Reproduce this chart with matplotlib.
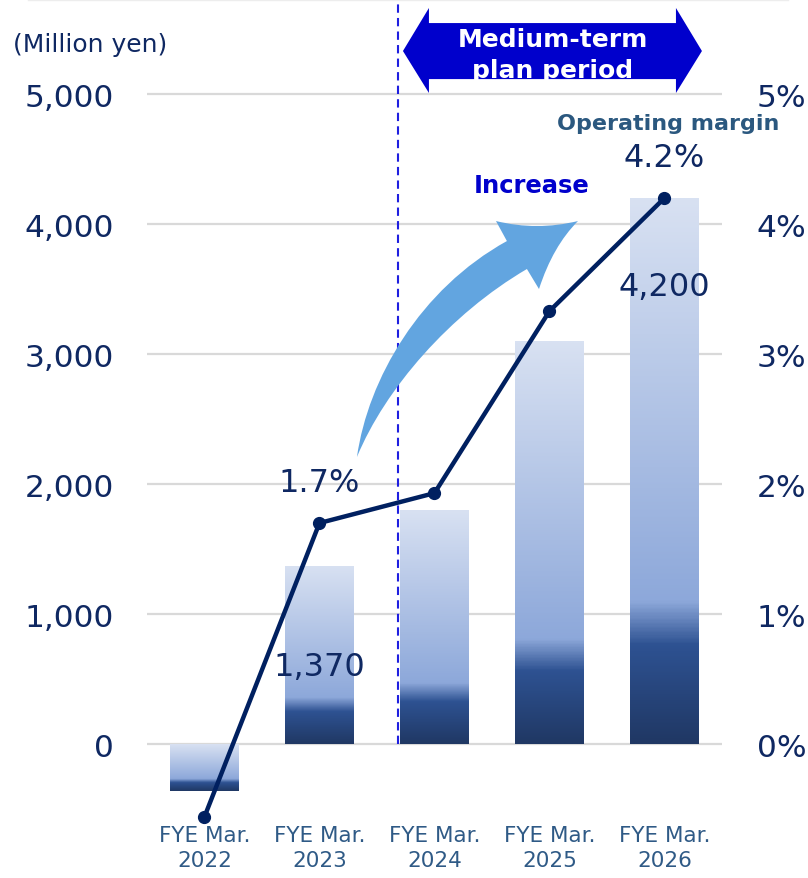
import numpy as np
import matplotlib
matplotlib.use("Agg")
import matplotlib.pyplot as plt
from matplotlib.colors import LinearSegmentedColormap
from matplotlib.patches import Polygon, PathPatch
from matplotlib.path import Path
from matplotlib.lines import Line2D

# --- data ---
years = ["2022", "2023", "2024", "2025", "2026"]
categories = [f"FYE Mar.\n{y}" for y in years]
op_income = [-360, 1370, 1800, 3100, 4200]        # million yen
op_margin = [-0.56, 1.7, 1.93, 3.33, 4.2]         # %
income_labels = {1: "1,370", 4: "4,200"}
margin_labels = {1: "1.7%", 4: "4.2%"}
left_ticks = [0, 1000, 2000, 3000, 4000, 5000]
right_ticks = [0, 1, 2, 3, 4, 5]

NAVY = "#0F2862"
LINE = "#002060"
CAT = "#2F5A86"

plt.rcParams["font.family"] = ["DejaVu Sans"]

fig = plt.figure(figsize=(8.08, 8.79), dpi=100)
ax = fig.add_axes([0.1819, 0.0637, 0.7116, 0.9317])
ax2 = ax.twinx()

ymin, ymax = -600, 5700
x = np.arange(len(categories))

# bars with a vertical gradient (light top -> dark bottom)
grad = LinearSegmentedColormap.from_list(
    "bar", [(0.0, "#D8E1F2"), (0.74, "#8DA8DA"), (0.82, "#2E5292"), (1.0, "#203864")])
bars = ax.bar(x, op_income, width=0.6, color="none", edgecolor="none", zorder=1)
g = np.linspace(0, 1, 400).reshape(-1, 1)
for b in bars:
    x0, w = b.get_x(), b.get_width()
    y0, h = b.get_y(), b.get_height()
    lo, hi = min(y0, y0 + h), max(y0, y0 + h)
    im = ax.imshow(g, cmap=grad, aspect="auto", origin="upper",
                   extent=(x0, x0 + w, lo, hi), zorder=1, interpolation="bilinear")
    im.set_clip_path(b)

ax.set_xlim(-0.5, len(categories) - 0.5)
ax.set_ylim(ymin, ymax)
ax.set_yticks(left_ticks)
ax.set_yticklabels([f"{v:,}" for v in left_ticks])
ax.set_xticks(x)
ax.set_xticklabels(categories, color=CAT, fontsize=15.5, linespacing=1.3)
ax.grid(axis="y", color="#D9D9D9", lw=1.6)
ax.set_axisbelow(True)
ax.tick_params(axis="y", length=0, pad=24, labelsize=22.5, labelcolor=NAVY)
ax.tick_params(axis="x", length=0, pad=2)

# margin line on the right axis
ax2.set_ylim(ymin / 1000, ymax / 1000)
ax2.set_yticks(right_ticks)
ax2.set_yticklabels([f"{v}%" for v in right_ticks])
ax2.tick_params(axis="y", length=0, pad=25, labelsize=22.5, labelcolor=NAVY)
ax2.plot(x, op_margin, color=LINE, lw=3.2, marker="o", ms=8.5, clip_on=False, zorder=5)

for a in (ax, ax2):
    for s in a.spines.values():
        s.set_visible(False)

# value labels
for i, txt in income_labels.items():
    yoff = 600 if i == 1 else 3520
    ax.text(x[i], yoff, txt, ha="center", va="center", fontsize=23, color=NAVY, zorder=6)
for i, txt in margin_labels.items():
    ax2.annotate(txt, (x[i], op_margin[i]), xytext=(0, 29.5), textcoords="offset points",
                 ha="center", va="center", fontsize=23, color=NAVY)

# medium-term plan divider
ax.plot([1.68, 1.68], [0, 5731], color="#1F1FE0", lw=1.5, ls=(0, (4, 2.5)),
        clip_on=False, zorder=2)

# double-headed "Medium-term plan period" arrow
dbl = Polygon([(1.726, 5331), (1.952, 5662), (1.952, 5546), (4.10, 5546), (4.10, 5662),
               (4.326, 5331), (4.10, 5008), (4.10, 5115), (1.952, 5115), (1.952, 5008)],
              closed=True, facecolor="#0000CC", edgecolor="none", clip_on=False, zorder=3)
ax.add_patch(dbl)
ax.text(3.03, 5305, "Medium-term\nplan period", ha="center", va="center", fontsize=18,
        fontweight="bold", color="white", linespacing=1.38, zorder=4, clip_on=False)

# curved "Increase" arrow
verts = [(1.326, 2208), (1.422, 2808), (1.874, 3500), (2.630, 3869),
         (2.535, 4023), (2.891, 3946), (3.248, 4023), (3.030, 3831), (2.909, 3500),
         (2.804, 3654), (2.135, 3308), (1.570, 2731), (1.326, 2208), (1.326, 2208)]
codes = [Path.MOVETO, Path.CURVE4, Path.CURVE4, Path.CURVE4,
         Path.LINETO, Path.CURVE3, Path.CURVE3, Path.CURVE3, Path.CURVE3,
         Path.LINETO, Path.CURVE4, Path.CURVE4, Path.CURVE4, Path.CLOSEPOLY]
ax.add_patch(PathPatch(Path(verts, codes), facecolor="#62A5E0", edgecolor="none", zorder=3))
ax.text(2.848, 4300, "Increase", ha="center", va="center", fontsize=17.5,
        fontweight="bold", color="#0000CC", zorder=4)
ax.text(4.03, 4777, "Operating margin", ha="center", va="center", fontsize=16,
        fontweight="bold", color="#2B587F", zorder=4)

fig.text(0.111, 0.9488, "(Million yen)", ha="center", va="center", fontsize=18, color=NAVY)
fig.add_artist(Line2D([0.035, 0.975], [0.9985, 0.9985], color="#EDEDED", lw=1))

fig.savefig("out.png", dpi=100)
